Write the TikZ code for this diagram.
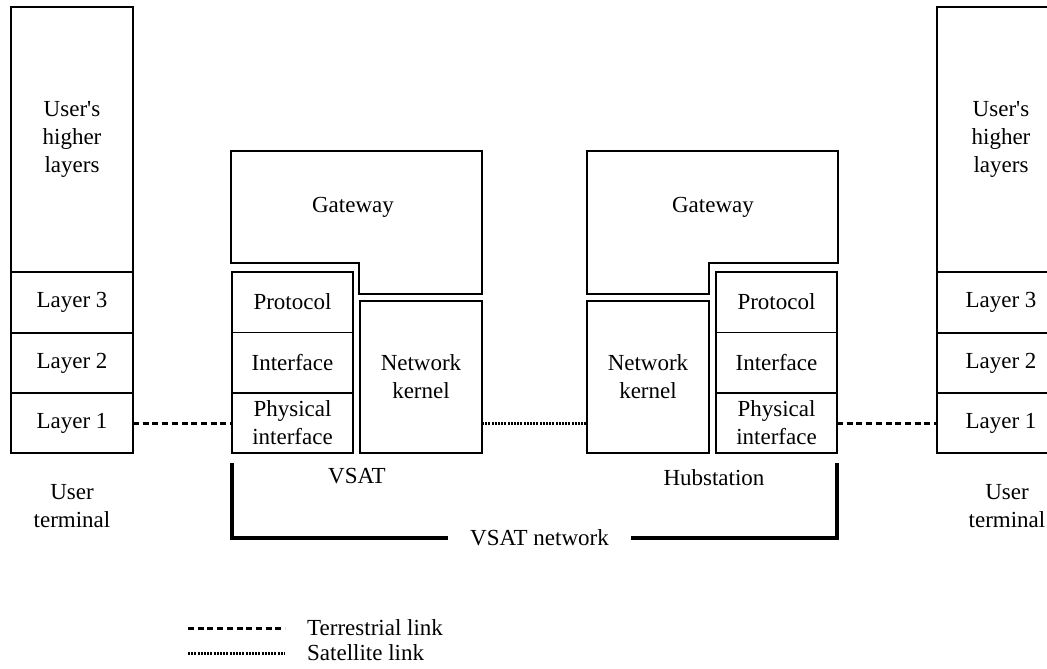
\documentclass[tikz,border=0pt]{standalone}
\usepackage{fontspec}
\setmainfont{Liberation Serif}
\usetikzlibrary{positioning}

\begin{document}
\begin{tikzpicture}[
    x=1pt, y=-1pt,
    every node/.style={font=\fontsize{23}{28}\selectfont, color=black},
    cell/.style={draw, line width=2.5pt, rectangle, minimum width=122pt,
                 inner sep=0pt, outer sep=0pt, align=center},
    pcell/.style={rectangle, minimum width=121pt, inner sep=0pt,
                  outer sep=0pt, align=center},
    frame/.style={draw, line width=2.5pt, line join=miter},
    sep/.style={draw, line width=0.8pt},
    txt/.style={align=center, inner sep=0pt},
    terr/.style={line width=3pt, dash pattern=on 6pt off 3.7pt},
    sat/.style={line width=3pt, dash pattern=on 2pt off 1.2pt},
    bracket/.style={line width=4pt, line join=miter}
]
\useasboundingbox (0,0) rectangle (1047,669);

% =========================================================
% LEFT: user terminal stack
% =========================================================
\node[cell, minimum height=265pt] (lhigh) at (72,139.5)
    {User\textquotesingle s\\higher\\layers};
\node[cell, minimum height=61pt, below=0pt of lhigh] (l3) {Layer 3};
\node[cell, minimum height=60pt, below=0pt of l3] (l2) {Layer 2};
\node[cell, minimum height=60pt, below=0pt of l2] (l1) {Layer 1};
\node[txt] (lterm) at (72,506) {User\\terminal};

% =========================================================
% VSAT: gateway, interface stack, network kernel
% =========================================================
\draw[frame] (231,151) -- (482,151) -- (482,294) -- (359,294)
    -- (359,263) -- (231,263) -- cycle;
\node[txt] (vgate) at (353,207) {Gateway};

\node[pcell, minimum height=60pt] (vproto) at (292.5,302) {Protocol};
\node[pcell, minimum height=61pt, below=0pt of vproto] (vintf) {Interface};
\node[cell, minimum width=121pt, minimum height=60pt, below=0pt of vintf]
    (vphys) {Physical\\interface};
\draw[frame] (vproto.north west) rectangle (vintf.south east);
\draw[sep] (vproto.south west) -- (vproto.south east);

\node[cell, minimum height=152pt] (vkern) at (421,377) {Network\\kernel};
\node[txt] (vsat) at (357,476) {VSAT};

% =========================================================
% HUBSTATION: mirrored layout
% =========================================================
\draw[frame] (587,151) -- (838,151) -- (838,263) -- (709,263)
    -- (709,294) -- (587,294) -- cycle;
\node[txt] (hgate) at (713,207) {Gateway};

\node[cell, minimum height=152pt] (hkern) at (648,377) {Network\\kernel};

\node[pcell, minimum height=60pt] (hproto) at (776.5,302) {Protocol};
\node[pcell, minimum height=61pt, below=0pt of hproto] (hintf) {Interface};
\node[cell, minimum width=121pt, minimum height=60pt, below=0pt of hintf]
    (hphys) {Physical\\interface};
\draw[frame] (hproto.north west) rectangle (hintf.south east);
\draw[sep] (hproto.south west) -- (hproto.south east);

\node[txt] (hub) at (714,478) {Hubstation};

% =========================================================
% RIGHT: user terminal stack (cut by the page edge)
% =========================================================
\node[cell, minimum width=128pt, minimum height=265pt] (rhigh) at (1001,139.5)
    {User\textquotesingle s\\higher\\layers};
\node[cell, minimum width=128pt, minimum height=61pt, below=0pt of rhigh] (r3) {Layer 3};
\node[cell, minimum width=128pt, minimum height=60pt, below=0pt of r3] (r2) {Layer 2};
\node[cell, minimum width=128pt, minimum height=60pt, below=0pt of r2] (r1) {Layer 1};
\node[txt] (rterm) at (1007,506) {User\\terminal};

% =========================================================
% LINKS
% =========================================================
\draw[terr] (l1.east) -- (vphys.west);
\draw[sat] (vkern.east |- vphys) -- (hkern.west |- hphys);
\draw[terr] (hphys.east) -- (r1.west);

% VSAT network bracket
\node[txt, inner xsep=22pt] (net) at (539.5,538) {VSAT network};
\draw[bracket] ([yshift=-10pt]vphys.south west) |- (net.west);
\draw[bracket] ([yshift=-10pt]hphys.south east) |- (net.east);

% =========================================================
% LEGEND
% =========================================================
\coordinate (terrA) at (188,628);
\coordinate (satA) at (188,653);
\node[txt, anchor=west] (terrlab) at (307,628) {Terrestrial link};
\node[txt, anchor=west] (satlab) at (307,653) {Satellite link};
\draw[terr] (terrA) -- ([xshift=-22pt]terrlab.west);
\draw[sat] (satA) -- ([xshift=-22pt]satlab.west);

\end{tikzpicture}
\end{document}
